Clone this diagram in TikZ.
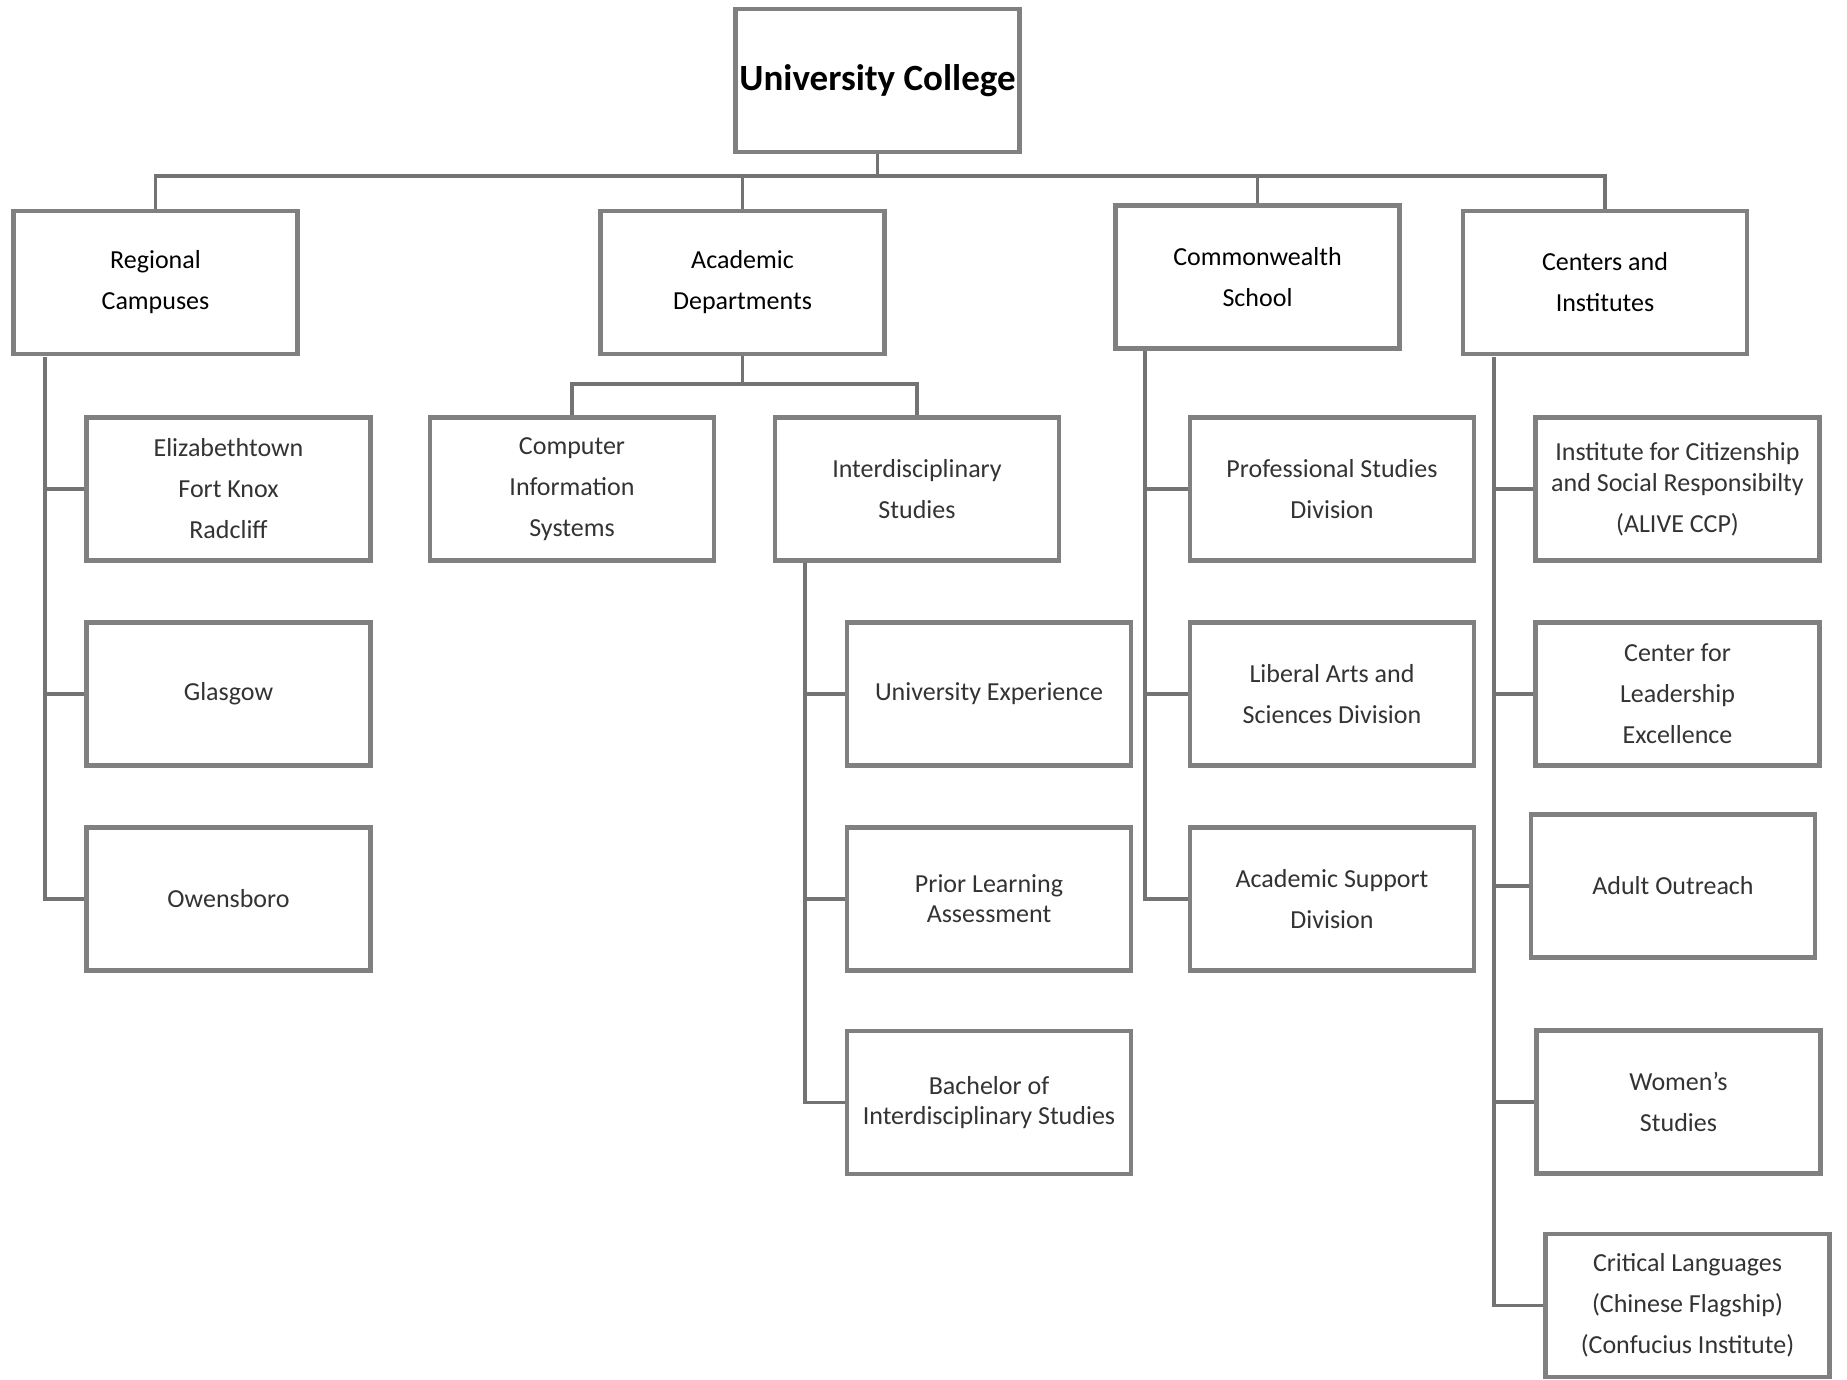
\documentclass[tikz,border=0pt]{standalone}
\usepackage{fontspec}
\setmainfont{Carlito}
\begin{document}
\begin{tikzpicture}[x=0.5pt,y=-0.5pt,
  box/.style={draw=black!50,line width=2.4pt,rectangle,minimum width=142pt,minimum height=71.5pt,inner sep=0pt,align=center,fill=white},
  rootbox/.style={box,font=\fontsize{18.5}{22}\selectfont\bfseries},
  headbox/.style={box,text=black,font=\fontsize{13}{20.5}\selectfont},
  childbox/.style={box,text=black!80,font=\fontsize{13}{20.5}\selectfont},
  conn/.style={draw=black!55,line width=1.6pt}]
\useasboundingbox (0,0) rectangle (1847,1380);
\fill[white] (0,0) rectangle (1847,1380);
% root
\node[rootbox] (root) at (877.5,80.5) {University College};
% level 2
\node[headbox] (reg) at (155.5,282.5) {Regional\\Campuses};
\node[headbox] (acad) at (742.5,282.5) {Academic\\Departments};
\node[headbox] (comm) at (1257.5,277) {Commonwealth\\School};
\node[headbox] (cent) at (1605,282.5) {Centers and\\Institutes};
% regional children
\node[childbox] (eliz) at (228.5,489) {Elizabethtown\\Fort Knox\\Radcliff};
\node[childbox] (glas) at (228.5,694) {Glasgow};
\node[childbox] (owen) at (228.5,899) {Owensboro};
% academic children
\node[childbox] (cis) at (572,489) {Computer\\Information\\Systems};
\node[childbox] (inter) at (917,489) {Interdisciplinary\\Studies};
\node[childbox] (uexp) at (989,694) {University Experience};
\node[childbox] (prior) at (989,899) {Prior Learning\\[-5.5pt]Assessment};
\node[childbox] (bach) at (989,1102.5) {Bachelor of\\[-5.5pt]Interdisciplinary Studies};
% commonwealth children
\node[childbox] (prof) at (1332,489) {Professional Studies\\Division};
\node[childbox] (lib) at (1332,694) {Liberal Arts and\\Sciences Division};
\node[childbox] (asd) at (1332,899) {Academic Support\\Division};
% centers children
\node[childbox] (inst) at (1677.5,489) {Institute for Citizenship\\[-5pt]and Social Responsibilty\\(ALIVE CCP)};
\node[childbox] (lead) at (1677.5,694) {Center for\\Leadership\\Excellence};
\node[childbox] (adult) at (1673,886) {Adult Outreach};
\node[childbox] (women) at (1678.5,1102) {Women's\\Studies};
\node[childbox] (crit) at (1687.5,1305.5) {Critical Languages\\(Chinese Flagship)\\(Confucius Institute)};
% bus
\coordinate (bus) at (0,176);
\draw[conn] (root.south) -- (root.south |- bus);
\draw[conn] (reg.north) -- (reg.north |- bus) -- (cent.north |- bus) -- (cent.north);
\draw[conn] (acad.north) -- (acad.north |- bus);
\draw[conn] (comm.north) -- (comm.north |- bus);
% academic split
\coordinate (split) at (0,384);
\draw[conn] (acad.south) -- (acad.south |- split);
\draw[conn] (cis.north) -- (cis.north |- split) -- (inter.north |- split) -- (inter.north);
% spines
\coordinate (rsp) at (45,357);
\draw[conn] (rsp) |- (owen.west);
\draw[conn] (rsp |- eliz.west) -- (eliz.west);
\draw[conn] (rsp |- glas.west) -- (glas.west);
\coordinate (isp) at (805,563);
\draw[conn] (isp) |- (bach.west);
\draw[conn] (isp |- uexp.west) -- (uexp.west);
\draw[conn] (isp |- prior.west) -- (prior.west);
\coordinate (csp) at (1145,351);
\draw[conn] (csp) |- (asd.west);
\draw[conn] (csp |- prof.west) -- (prof.west);
\draw[conn] (csp |- lib.west) -- (lib.west);
\coordinate (esp) at (1494,357);
\draw[conn] (esp) |- (crit.west);
\draw[conn] (esp |- inst.west) -- (inst.west);
\draw[conn] (esp |- lead.west) -- (lead.west);
\draw[conn] (esp |- adult.west) -- (adult.west);
\draw[conn] (esp |- women.west) -- (women.west);
\end{tikzpicture}
\end{document}
